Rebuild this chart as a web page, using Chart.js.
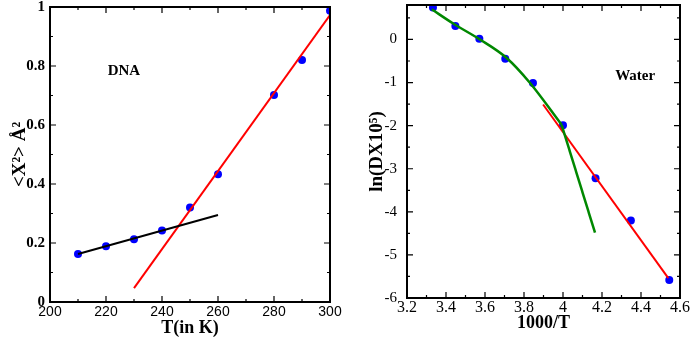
<!DOCTYPE html>
<html>
<head>
<meta charset="utf-8">
<script src="https://cdn.jsdelivr.net/npm/chart.js@4/dist/chart.umd.min.js"></script>
<style>
  body { margin: 0; background: #fff; }
  .panel { position: absolute; top: 0; }
</style>
</head>
<body>
<canvas id="dnaChart" class="panel" width="346" height="338" style="left:0"></canvas>
<canvas id="waterChart" class="panel" width="346" height="338" style="left:346px"></canvas>
<script>
// DNA panel
const dnaT = [210, 220, 230, 240, 250, 260, 280, 290, 300];
const dnaX2 = [0.163, 0.189, 0.213, 0.242, 0.320, 0.433, 0.702, 0.820, 0.987];
const dnaLowFitT = [210, 260];
const dnaLowFitX2 = [0.163, 0.295];
const dnaHighFitT = [230, 300];
const dnaHighFitX2 = [0.047, 0.973];
const dnaXTicks = [200, 220, 240, 260, 280, 300];
const dnaYTicks = [0, 0.2, 0.4, 0.6, 0.8, 1];

// Water panel
const invT = [3.333, 3.448, 3.571, 3.704, 3.846, 4.0, 4.167, 4.348, 4.545];
const lnD = [0.74, 0.31, 0.015, -0.45, -1.01, -1.99, -3.22, -4.20, -5.58];
const curveInvT = [3.327, 3.437, 3.574, 3.711, 3.831, 3.993];
const curveLnD = [0.70, 0.37, 0.0, -0.43, -1.01, -1.98];
const tailInvT = [3.993, 4.164];
const tailLnD = [-1.98, -4.48];
const waterFitInvT = [3.898, 4.54];
const waterFitLnD = [-1.51, -5.54];
const waterXTicks = [3.2, 3.4, 3.6, 3.8, 4, 4.2, 4.4, 4.6];
const waterYTicks = [-6, -5, -4, -3, -2, -1, 0];

const toPts = (xs, ys) => xs.map((x, i) => ({ x: x, y: ys[i] }));

// box frame + inward major/minor ticks on all four sides
const frameTicks = {
    id: 'frameTicks',
    afterDraw(chart) {
        const { ctx, chartArea: a, scales } = chart;
        const sx = scales.x, sy = scales.y;
        ctx.save();
        ctx.strokeStyle = '#000';
        ctx.lineWidth = 2;
        ctx.strokeRect(a.left, a.top, a.right - a.left, a.bottom - a.top);
        ctx.lineWidth = 1.2;
        const drawX = (v, len) => {
            const p = sx.getPixelForValue(v);
            if (p < a.left - 0.5 || p > a.right + 0.5) return;
            ctx.beginPath();
            ctx.moveTo(p, a.bottom); ctx.lineTo(p, a.bottom - len);
            ctx.moveTo(p, a.top); ctx.lineTo(p, a.top + len);
            ctx.stroke();
        };
        const drawY = (v, len) => {
            const p = sy.getPixelForValue(v);
            if (p < a.top - 0.5 || p > a.bottom + 0.5) return;
            ctx.beginPath();
            ctx.moveTo(a.left, p); ctx.lineTo(a.left + len, p);
            ctx.moveTo(a.right, p); ctx.lineTo(a.right - len, p);
            ctx.stroke();
        };
        const xt = sx.ticks.map(t => t.value);
        const yt = sy.ticks.map(t => t.value);
        const xs = xt[1] - xt[0], ys = yt[1] - yt[0];
        xt.forEach(v => { drawX(v, 6); drawX(v + xs / 2, 3); });
        drawX(xt[0] - xs / 2, 3);
        yt.forEach(v => { drawY(v, 6); drawY(v + ys / 2, 3); });
        drawY(yt[0] - ys / 2, 3);
        // panel label
        const lab = chart.options.plugins.frameTicks;
        ctx.fillStyle = '#000';
        ctx.font = 'bold 15px "Liberation Serif"';
        ctx.textAlign = 'center';
        ctx.textBaseline = 'middle';
        ctx.fillText(lab.text, sx.getPixelForValue(lab.x), sy.getPixelForValue(lab.y));
        ctx.restore();
    }
};

const noPad = s => {
    s.paddingTop = 0; s.paddingBottom = 0;
    s.paddingLeft = 0; s.paddingRight = 0;
};

function makeChart(id, cfg) {
    return new Chart(document.getElementById(id).getContext('2d'), {
        type: 'scatter',
        data: { datasets: cfg.datasets },
        plugins: [frameTicks],
        options: {
            responsive: false,
            animation: false,
            devicePixelRatio: 1,
            layout: { padding: cfg.pad },
            plugins: {
                legend: { display: false },
                tooltip: { enabled: false },
                frameTicks: cfg.label
            },
            scales: {
                x: {
                    type: 'linear',
                    min: cfg.xTicks[0],
                    max: cfg.xTicks[cfg.xTicks.length - 1],
                    afterBuildTicks: s => { s.ticks = cfg.xTicks.map(v => ({ value: v })); },
                    afterFit: s => { s.height = cfg.xH; noPad(s); },
                    grid: { display: false, drawTicks: false },
                    border: { display: false },
                    ticks: {
                        color: '#000',
                        padding: cfg.xTickPad,
                        maxRotation: 0,
                        autoSkip: false,
                        font: cfg.xFont,
                        callback: v => String(v)
                    },
                    title: {
                        display: true,
                        text: cfg.xTitle,
                        color: '#000',
                        font: { family: 'Liberation Serif', size: 18, weight: 'bold', lineHeight: 1.1 },
                        padding: { top: 0, bottom: cfg.xTitlePad }
                    }
                },
                y: {
                    type: 'linear',
                    min: cfg.yMin,
                    max: cfg.yMax,
                    afterBuildTicks: s => { s.ticks = cfg.yTicks.map(v => ({ value: v })); },
                    afterFit: s => { s.width = cfg.yW; noPad(s); },
                    grid: { display: false, drawTicks: false },
                    border: { display: false },
                    ticks: {
                        color: '#000',
                        padding: cfg.yTickPad,
                        autoSkip: false,
                        font: cfg.yFont,
                        callback: v => String(v)
                    },
                    title: {
                        display: true,
                        text: cfg.yTitle,
                        color: '#000',
                        font: { family: 'Liberation Serif', size: 19, weight: 'bold', lineHeight: 1.1 },
                        padding: { top: cfg.yTitlePad, bottom: 0 }
                    }
                }
            }
        }
    });
}

makeChart('dnaChart', {
    datasets: [
        { data: toPts(dnaLowFitT, dnaLowFitX2), showLine: true, borderColor: '#000', borderWidth: 2, pointRadius: 0 },
        { data: toPts(dnaHighFitT, dnaHighFitX2), showLine: true, borderColor: '#ff0000', borderWidth: 2, pointRadius: 0 },
        { data: toPts(dnaT, dnaX2), showLine: false, pointRadius: 4, backgroundColor: '#0000ff', borderColor: '#0000ff', borderWidth: 0 }
    ],
    pad: { left: 0, top: 7, right: 16, bottom: 0 },
    xTicks: dnaXTicks, yTicks: dnaYTicks, yMin: 0, yMax: 1,
    xH: 36, yW: 50,
    xFont: { family: 'Liberation Sans', size: 14 },
    yFont: { family: 'Liberation Serif', size: 15, weight: 'bold' },
    xTickPad: 2, yTickPad: 5,
    xTitle: 'T(in K)', xTitlePad: 0,
    yTitle: '<X²> Å²', yTitlePad: 10,
    label: { text: 'DNA', x: 226.4, y: 0.783 }
});

makeChart('waterChart', {
    datasets: [
        { data: toPts(curveInvT, curveLnD), showLine: true, borderColor: '#008800', borderWidth: 2.5, pointRadius: 0, cubicInterpolationMode: 'monotone' },
        { data: toPts(tailInvT, tailLnD), showLine: true, borderColor: '#008800', borderWidth: 2.5, pointRadius: 0 },
        { data: toPts(waterFitInvT, waterFitLnD), showLine: true, borderColor: '#ff0000', borderWidth: 2, pointRadius: 0 },
        { data: toPts(invT, lnD), showLine: false, pointRadius: 4, backgroundColor: '#0000ff', borderColor: '#0000ff', borderWidth: 0 }
    ],
    pad: { left: 0, top: 5, right: 12, bottom: 0 },
    xTicks: waterXTicks, yTicks: waterYTicks, yMin: -6, yMax: 0.8,
    xH: 40, yW: 61,
    xFont: { family: 'Liberation Serif', size: 16 },
    yFont: { family: 'Liberation Serif', size: 15 },
    xTickPad: 0, yTickPad: 10,
    xTitle: '1000/T', xTitlePad: 5,
    yTitle: 'ln(DX10⁵)', yTitlePad: 21,
    label: { text: 'Water', x: 4.37, y: -0.86 }
});
</script>
</body>
</html>
